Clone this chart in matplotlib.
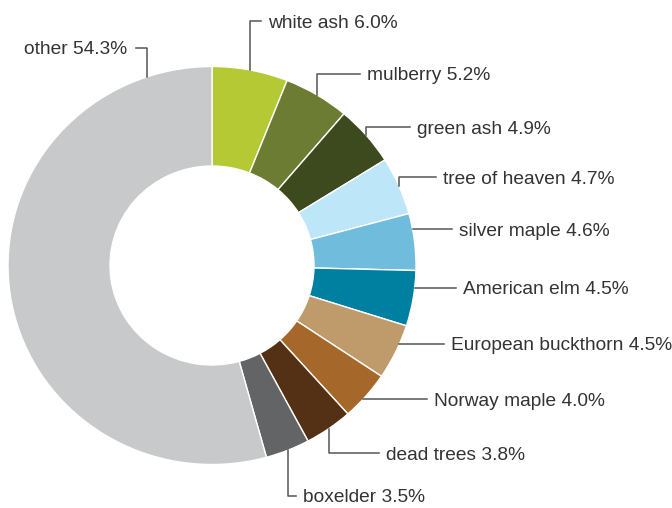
import numpy as np
import matplotlib
matplotlib.use('Agg')
import matplotlib.pyplot as plt
from matplotlib import rc

rc('font', **{'family': ['Liberation Sans', 'DejaVu Sans'], 'size': 13.8})

names = ['white ash', 'mulberry', 'green ash', 'tree of heaven', 'silver maple',
         'American elm', 'European buckthorn', 'Norway maple', 'dead trees',
         'boxelder', 'other']
shares = [6.0, 5.2, 4.9, 4.7, 4.6, 4.5, 4.5, 4.0, 3.8, 3.5, 54.3]
colors = ['#b5c935', '#6c7d33', '#3c4a1e', '#bde6f8', '#6fbcdc', '#0080a0',
          '#bf9a6a', '#a5682a', '#543114', '#636466', '#c8c9cb']

# label layout in pixels: leader y, text x, leader kind
lab_y = [21, 74, 127, 177, 229, 288, 344, 399, 453, 496, 48]
lab_x = [268, 367, 417, 443, 459, 463, 451, 434, 386, 303, 127]
kinds = ['mid', 'mid', 'mid', 'mid', 'h', 'h', 'h', 'h', 'mid', 'mid', 'other']

W, H = 672, 508
cx, cy, rx, ry = 212, 265.5, 204, 199
gap = 7

def px2d(px, py):
    return (px - cx) / rx, (cy - py) / ry

fig = plt.figure(figsize=(W / 100, H / 100), dpi=100)
ax = fig.add_axes([0, 0, 1, 1])
ax.pie(shares, colors=colors, startangle=90, counterclock=False, radius=1,
       wedgeprops=dict(width=0.5, edgecolor='white', linewidth=1.0))
ax.set_aspect('auto')
ax.set_xlim(-cx / rx, (W - cx) / rx)
ax.set_ylim(-(H - cy) / ry, cy / ry)
ax.axis('off')

lc = '#555555'
cum = np.cumsum([0] + shares)
for i, name in enumerate(names):
    mid = (cum[i] + cum[i + 1]) / 2 / 100 * 2 * np.pi
    tx, ty = px2d(lab_x[i], lab_y[i])
    label = '%s %.1f%%' % (name, shares[i])
    if kinds[i] == 'mid':
        ax0, ay0 = np.sin(mid), np.cos(mid)
        ax.plot([ax0, ax0, tx - gap / rx], [ay0, ty, ty], color=lc, lw=1.1)
    elif kinds[i] == 'h':
        ax0 = np.sqrt(1 - ty ** 2)
        ax.plot([ax0, tx - gap / rx], [ty, ty], color=lc, lw=1.1)
    else:
        ex = px2d(147, 0)[0]
        ey = np.sqrt(1 - ex ** 2)
        ax.plot([tx + 9 / rx, ex, ex], [ty, ty, ey], color=lc, lw=1.1)
    ha = 'right' if kinds[i] == 'other' else 'left'
    ax.text(tx, ty - 6.5 / ry, label, ha=ha, va='baseline', color='#333333')

fig.savefig('out.png', dpi=100)
